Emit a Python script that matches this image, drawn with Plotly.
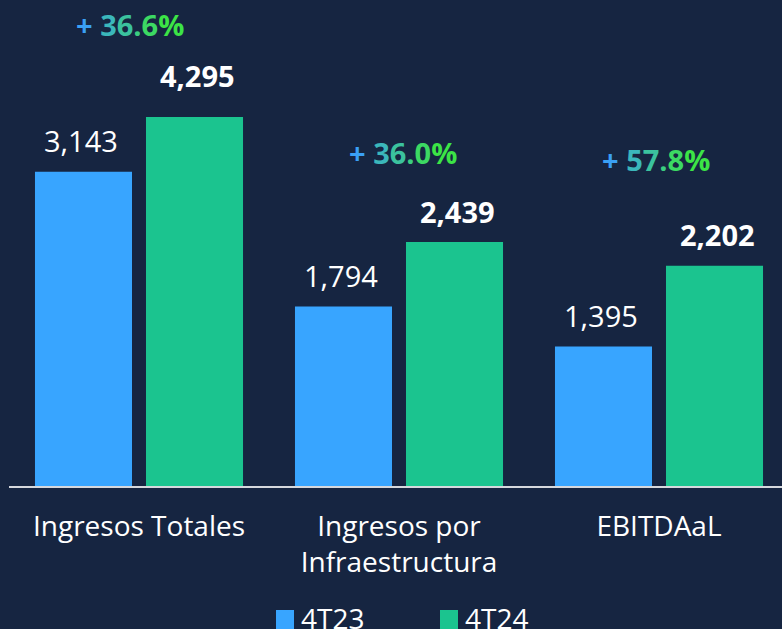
import plotly.graph_objects as go

# ---- data ----
categories = ["Ingresos Totales", "Ingresos por<br>Infraestructura", "EBITDAaL"]
series_names = ["4T23", "4T24"]
values_4t23 = [3143, 1794, 1395]
values_4t24 = [4295, 2439, 2202]
growth_labels = ["+ 36.6%", "+ 36.0%", "+ 57.8%"]

# ---- style ----
BG = "#162541"
BLUE = "#38A5FF"
GREEN = "#1BC48F"
FONT = "Open Sans"
Y_MAX = 3690           # top of the visible value range (tallest bar is cut off there)
W, H = 782, 629
M_L, M_R, M_T, M_B = 9, 0, 117, 143
PLOT_W = W - M_L - M_R
PLOT_H = H - M_T - M_B
X_RANGE = [-0.5, -0.5 + PLOT_W / 260.0]

GRAD_START = (58, 160, 245)
GRAD_END = (60, 228, 70)
growth_pos = [(-9, 25), (4, 152), (-3, 159)]   # (x shift px, text centre y px)


def gradient_text(s):
    n = len(s)
    out = []
    for i, ch in enumerate(s):
        t = i / max(n - 1, 1)
        c = tuple(round(a + (b - a) * t) for a, b in zip(GRAD_START, GRAD_END))
        out.append('<span style="color:rgb(%d,%d,%d)">%s</span>' % (c + (ch,)))
    return "".join(out)


def px_to_py(py):
    return (H - M_B - py) / PLOT_H


def px_to_px(px):
    return (px - M_L) / PLOT_W


xs = list(range(len(categories)))

fig = go.Figure()
fig.add_trace(go.Bar(x=xs, y=values_4t23, name=series_names[0], marker_color=BLUE,
                     marker_line_width=0, showlegend=False, hoverinfo="skip"))
fig.add_trace(go.Bar(x=xs, y=values_4t24, name=series_names[1], marker_color=GREEN,
                     marker_line_width=0, showlegend=False, hoverinfo="skip"))

annotations = []
offsets = [-0.225, 0.225]
for s_idx, (vals, bold) in enumerate([(values_4t23, False), (values_4t24, True)]):
    for i, v in enumerate(vals):
        clipped = v > Y_MAX
        label = f"{v:,}"
        if bold:
            label = f"<b>{label}</b>"
        annotations.append(dict(
            x=i + offsets[s_idx], y=min(v, Y_MAX), xref="x", yref="y",
            text=label, showarrow=False, yanchor="middle",
            yshift=31 + (11 if clipped else 0),
            font=dict(family=FONT, size=29, color="#FFFFFF")))

for i, g in enumerate(growth_labels):
    dx, py = growth_pos[i]
    annotations.append(dict(
        x=i, y=px_to_py(py), xref="x", yref="paper", xshift=dx,
        text="<b>" + gradient_text(g) + "</b>", showarrow=False, yanchor="middle",
        font=dict(family=FONT, size=29)))

# manual legend (large square swatches)
shapes = []
legend_items = [(series_names[0], BLUE, 276), (series_names[1], GREEN, 440)]
for name, col, x0 in legend_items:
    shapes.append(dict(type="rect", xref="paper", yref="paper",
                       x0=px_to_px(x0), x1=px_to_px(x0 + 18),
                       y0=px_to_py(610), y1=px_to_py(629),
                       fillcolor=col, line_width=0, layer="above"))
    annotations.append(dict(x=px_to_px(x0 + 23), y=px_to_py(618), xref="paper", yref="paper",
                            text=name, showarrow=False, xanchor="left", yanchor="middle",
                            font=dict(family=FONT, size=28, color="#FFFFFF")))

fig.update_layout(
    width=W, height=H,
    margin=dict(l=M_L, r=M_R, t=M_T, b=M_B, pad=0),
    paper_bgcolor=BG, plot_bgcolor=BG,
    barmode="group", bargap=0.146, bargroupgap=0.126,
    showlegend=False, hovermode=False,
    annotations=annotations, shapes=shapes,
    font=dict(family=FONT, color="#FFFFFF"),
    xaxis=dict(range=X_RANGE, tickvals=xs, ticktext=categories,
               showline=True, linecolor="#D5D8DD", linewidth=2,
               showgrid=False, zeroline=False, ticks="",
               ticklabelstandoff=14,
               tickfont=dict(family=FONT, size=28, color="#FFFFFF")),
    yaxis=dict(range=[0, Y_MAX], visible=False, showgrid=False, zeroline=False),
)

fig.write_html("out.html", config={"displayModeBar": False},
               post_script="document.body.style.margin='0';document.body.style.background='%s';" % BG)
